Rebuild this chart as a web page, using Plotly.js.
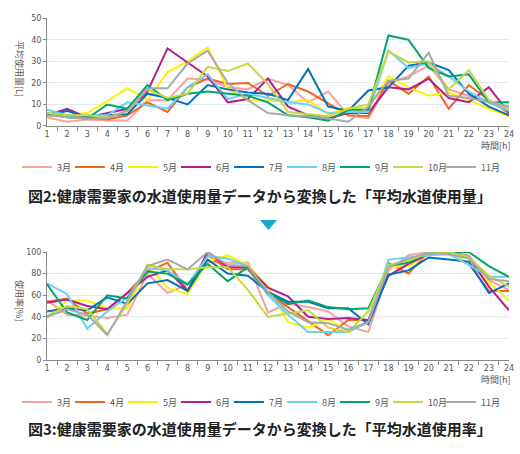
<!DOCTYPE html>
<html><head><meta charset="utf-8">
<script src="https://cdn.plot.ly/plotly-3.0.1.min.js"></script>
<style>html,body{margin:0;padding:0;background:#fff;} #chart{width:520px;height:454px;}</style>
</head><body><div id="chart"></div>
<script>
// Categories
const hours = ['1','2','3','4','5','6','7','8','9','10','11','12','13','14','15','16','17','18','19','20','21','22','23','24'];
const months = ['3月','4月','5月','6月','7月','8月','9月','10月','11月'];
const colors = ['#F7A29A','#F26522','#FFF100','#B61E8C','#0072BC','#6DCFF6','#00A665','#C4DA3C','#A7A9AC'];

// Average water usage [L]
const usage3  = [4,2,3,2.5,2.5,12,12,22,21.5,18,17,22,19,11,16,5,3.5,20,23,28,17,14,11,7];
const usage4  = [5,5,4,3,5,11,6.5,18,22,19.5,20,14,19.5,16,10.5,5,4.5,21,15,23,8,19,12,6];
const usage5  = [5,5,6,11.5,17.5,12,25,30,36.5,17,12,12,11,12,5.5,8.5,8.5,23,18,14,15.5,12,8,4.5];
const usage6  = [5,8,4,6,8,16,36,29.5,23,11,12.5,22,9,5,3.5,6,6,18,17,22,13,11,18,6];
const usage7  = [5,7,4,5,5.5,15,13,10,19,17,15.5,15,12,26.5,9,7,16.5,18,28,29.5,26,15,9,5];
const usage8  = [7.5,5,5,5,11,9.5,8,18,24,12.5,15,13,11,10,6,6.5,6.5,35,27,29,23,16,11,7];
const usage9  = [6,4,3.5,10,8,19,12,15,16,15,14,11,5,4,2.5,7.5,7.5,42,40,27,23,24,11,11];
const usage10 = [6,5,5,4,7,17,13,15,27.5,25.5,29,19.5,6.5,5.5,4.5,8,10,34.5,29.5,30,17,26,12,8];
const usage11 = [5,4,3.5,3.5,7,17.5,17.5,29,35,20,12,6,5,4.5,3.5,2,9,21,22,34,14,13,11,9];
const usageTicks = [0,10,20,30,40,50];

// Average water usage rate [%]
const rate3  = [55,42,41,39,42,80,62,70,91,90,90,44,52,49,45,31,26,83,97,100,99,97,74,65];
const rate4  = [54,57,43,47,62,82,90,64,97,84,84,62,49,36,23,37,37,90,80,100,100,89,64,64];
const rate5  = [39,55,55,48,48,88,67,61,92,97,88,68,35,30,38,26,36,86,87,98,99,90,72,55];
const rate6  = [53,56,50,47,62,77,83,64,100,86,86,67,59,40,38,39,37,78,89,98,100,95,68,46];
const rate7  = [45,48,46,58,52,71,74,64,93,80,78,63,54,54,48,48,33,79,83,95,93,91,62,71];
const rate8  = [71,61,29,45,58,85,83,70,96,94,87,60,42,26,26,26,35,93,95,97,98,88,77,77];
const rate9  = [70,44,37,60,57,82,80,70,89,73,86,62,52,55,49,47,48,87,90,100,99,100,87,77];
const rate10 = [41,50,47,24,52,88,84,84,86,86,65,40,43,46,30,26,45,88,92,99,100,95,78,68];
const rate11 = [40,47,42,23,55,87,93,84,100,88,87,63,45,35,34,28,35,86,94,99,98,94,75,73];
const rateTicks = [0,20,40,60,80,100];

const usageSeries = [usage3,usage4,usage5,usage6,usage7,usage8,usage9,usage10,usage11];
const rateSeries = [rate3,rate4,rate5,rate6,rate7,rate8,rate9,rate10,rate11];

const JP = '"Noto Sans CJK JP", "Noto Sans", sans-serif';
const NUM = '"DejaVu Sans", sans-serif';

// one small legend per month so every label sits at an even pitch
const legendId = n => (n === 1 ? 'legend' : 'legend' + n);
const LEG_X0 = 17, LEG_PITCH = 53, W = 520;

const traces = [];
usageSeries.forEach((ys, i) => traces.push({
  type:'scatter', mode:'lines', x:hours, y:ys, name:months[i],
  line:{color:colors[i], width:2}, xaxis:'x', yaxis:'y', legend:legendId(i + 1), hoverinfo:'skip'
}));
rateSeries.forEach((ys, i) => traces.push({
  type:'scatter', mode:'lines', x:hours, y:ys, name:months[i],
  line:{color:colors[i], width:2}, xaxis:'x2', yaxis:'y2', legend:legendId(i + 10), hoverinfo:'skip'
}));

const xBase = {
  type:'category', categoryorder:'array', categoryarray:hours,
  tickson:'boundaries', ticks:'outside', ticklen:4, tickcolor:'#888', tickwidth:1,
  showline:true, linecolor:'#888', linewidth:1, showgrid:false, zeroline:false,
  tickfont:{family:NUM, size:8, color:'#555'}, fixedrange:true
};
const yBase = {
  showline:true, linecolor:'#888', linewidth:1, ticks:'outside', ticklen:3, tickcolor:'#888',
  gridcolor:'#dde8f1', gridwidth:1, zeroline:false,
  tickfont:{family:NUM, size:8, color:'#555'}, fixedrange:true
};

const layout = {
  width:520, height:454, margin:{l:0,r:0,t:0,b:0,pad:0,autoexpand:false},
  paper_bgcolor:'#fff', plot_bgcolor:'#fff', showlegend:true,
  xaxis:Object.assign({}, xBase, {domain:[0.0904,0.9788], anchor:'y'}),
  yaxis:Object.assign({}, yBase, {domain:[0.7225,0.9597], anchor:'x', range:[0,50], tickvals:usageTicks}),
  xaxis2:Object.assign({}, xBase, {domain:[0.0904,0.9788], anchor:'y2'}),
  yaxis2:Object.assign({}, yBase, {domain:[0.2070,0.4449], anchor:'x2', range:[0,100], tickvals:rateTicks}),
  shapes:[{type:'path', xref:'paper', yref:'paper',
    path:'M 0.5 0.5154 L 0.5327 0.5154 L 0.5163 0.4934 Z',
    fillcolor:'#14A9CF', line:{width:0}}],
  annotations:[
    {xref:'paper', yref:'paper', x:0.0385, y:0.848, xanchor:'center', yanchor:'middle', text:'平均使用量[L]', textangle:90, showarrow:false,
     font:{family:JP, size:9, color:'#555'}},
    {xref:'paper', yref:'paper', x:0.0385, y:0.339, xanchor:'center', yanchor:'middle', text:'使用率[%]', textangle:90, showarrow:false,
     font:{family:JP, size:9, color:'#555'}},
    {xref:'paper', yref:'paper', x:0.986, y:0.6806, xanchor:'right', yanchor:'middle', text:'時間[h]', showarrow:false,
     font:{family:JP, size:9, color:'#555'}},
    {xref:'paper', yref:'paper', x:0.986, y:0.163, xanchor:'right', yanchor:'middle', text:'時間[h]', showarrow:false,
     font:{family:JP, size:9, color:'#555'}},
    {xref:'paper', yref:'paper', x:0.5, y:0.5683, xanchor:'center', yanchor:'middle', text:'<b>図2:健康需要家の水道使用量データから変換した「平均水道使用量」</b>', showarrow:false,
     font:{family:JP, size:15, color:'#222'}},
    {xref:'paper', yref:'paper', x:0.5, y:0.0551, xanchor:'center', yanchor:'middle', text:'<b>図3:健康需要家の水道使用量データから変換した「平均水道使用率」</b>', showarrow:false,
     font:{family:JP, size:15, color:'#222'}}
  ]
};
months.forEach((m, i) => {
  const base = {
    orientation:'h', xanchor:'left', yanchor:'middle', x:(LEG_X0 + i * LEG_PITCH) / W,
    font:{family:JP, size:9, color:'#555'}, bgcolor:'rgba(0,0,0,0)', borderwidth:0
  };
  layout[legendId(i + 1)] = Object.assign({}, base, {y:0.632});
  layout[legendId(i + 10)] = Object.assign({}, base, {y:0.1145});
});

Plotly.newPlot('chart', traces, layout, {staticPlot:true, displayModeBar:false});
</script></body></html>
